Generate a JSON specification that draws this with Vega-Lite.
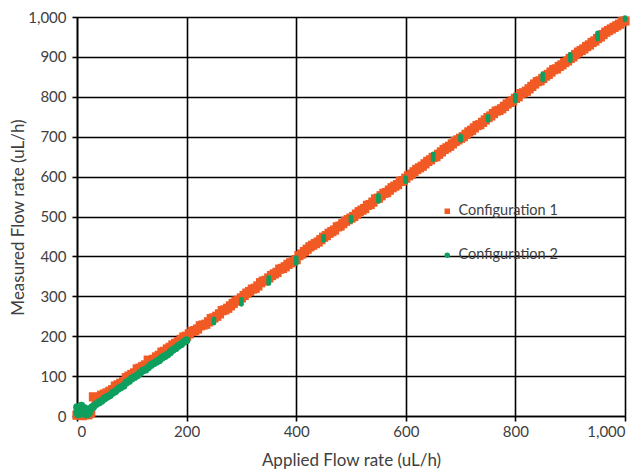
{
  "$schema": "https://vega.github.io/schema/vega-lite/v6.json",
  "autosize": {"type": "none"},
  "padding": {"left": 77, "top": 17, "right": 16, "bottom": 59},
  "width": 548,
  "height": 399,
  "config": {
    "view": {"stroke": null},
    "font": "Lato",
    "axis": {
      "gridColor": "#000000", "gridWidth": 1.6, "gridOpacity": 1,
      "domainColor": "#000000", "domainWidth": 1.6,
      "tickColor": "#000000", "tickWidth": 1.6, "tickSize": 5,
      "labelFont": "Lato", "labelFontSize": 15, "labelColor": "#404040",
      "titleFont": "Lato", "titleFontSize": 17, "titleColor": "#404040", "titleFontWeight": "normal"
    },
    "legend": {"labelFont": "Lato"}
  },
  "datasets": {
    "orange": [
      {"x":0,"y":2,"config":"Configuration 1"},{"x":5,"y":4,"config":"Configuration 1"},{"x":10,"y":1,"config":"Configuration 1"},{"x":15,"y":6,"config":"Configuration 1"},{"x":20,"y":3,"config":"Configuration 1"},{"x":25,"y":8,"config":"Configuration 1"},{"x":30,"y":48,"config":"Configuration 1"},{"x":35,"y":42,"config":"Configuration 1"},{"x":40,"y":45,"config":"Configuration 1"},{"x":45,"y":52,"config":"Configuration 1"},
      {"x":50,"y":55,"config":"Configuration 1"},{"x":55,"y":58,"config":"Configuration 1"},{"x":60,"y":62,"config":"Configuration 1"},{"x":65,"y":66,"config":"Configuration 1"},{"x":70,"y":75,"config":"Configuration 1"},{"x":75,"y":78,"config":"Configuration 1"},{"x":80,"y":82,"config":"Configuration 1"},{"x":85,"y":86,"config":"Configuration 1"},{"x":90,"y":96,"config":"Configuration 1"},{"x":95,"y":100,"config":"Configuration 1"},
      {"x":100,"y":104,"config":"Configuration 1"},{"x":105,"y":108,"config":"Configuration 1"},{"x":110,"y":118,"config":"Configuration 1"},{"x":115,"y":120,"config":"Configuration 1"},{"x":120,"y":124,"config":"Configuration 1"},{"x":125,"y":128,"config":"Configuration 1"},{"x":130,"y":140,"config":"Configuration 1"},{"x":135,"y":138,"config":"Configuration 1"},{"x":140,"y":142,"config":"Configuration 1"},{"x":145,"y":148,"config":"Configuration 1"},
      {"x":150,"y":152,"config":"Configuration 1"},{"x":155,"y":160,"config":"Configuration 1"},{"x":160,"y":162,"config":"Configuration 1"},{"x":165,"y":168,"config":"Configuration 1"},{"x":170,"y":172,"config":"Configuration 1"},{"x":175,"y":178,"config":"Configuration 1"},{"x":180,"y":182,"config":"Configuration 1"},{"x":185,"y":186,"config":"Configuration 1"},{"x":190,"y":192,"config":"Configuration 1"},{"x":195,"y":198,"config":"Configuration 1"},
      {"x":200,"y":200,"config":"Configuration 1"},{"x":205,"y":206,"config":"Configuration 1"},{"x":210,"y":212,"config":"Configuration 1"},{"x":215,"y":214,"config":"Configuration 1"},{"x":220,"y":218,"config":"Configuration 1"},{"x":225,"y":226,"config":"Configuration 1"},{"x":230,"y":228,"config":"Configuration 1"},{"x":235,"y":230,"config":"Configuration 1"},{"x":240,"y":236,"config":"Configuration 1"},{"x":245,"y":244,"config":"Configuration 1"},
      {"x":250,"y":246,"config":"Configuration 1"},{"x":255,"y":250,"config":"Configuration 1"},{"x":260,"y":256,"config":"Configuration 1"},{"x":265,"y":264,"config":"Configuration 1"},{"x":270,"y":266,"config":"Configuration 1"},{"x":275,"y":270,"config":"Configuration 1"},{"x":280,"y":276,"config":"Configuration 1"},{"x":285,"y":282,"config":"Configuration 1"},{"x":290,"y":288,"config":"Configuration 1"},{"x":295,"y":290,"config":"Configuration 1"},
      {"x":300,"y":296,"config":"Configuration 1"},{"x":305,"y":302,"config":"Configuration 1"},{"x":310,"y":308,"config":"Configuration 1"},{"x":315,"y":312,"config":"Configuration 1"},{"x":320,"y":318,"config":"Configuration 1"},{"x":325,"y":320,"config":"Configuration 1"},{"x":330,"y":326,"config":"Configuration 1"},{"x":335,"y":334,"config":"Configuration 1"},{"x":340,"y":338,"config":"Configuration 1"},{"x":345,"y":340,"config":"Configuration 1"},
      {"x":350,"y":346,"config":"Configuration 1"},{"x":355,"y":352,"config":"Configuration 1"},{"x":360,"y":356,"config":"Configuration 1"},{"x":365,"y":360,"config":"Configuration 1"},{"x":370,"y":368,"config":"Configuration 1"},{"x":375,"y":370,"config":"Configuration 1"},{"x":380,"y":374,"config":"Configuration 1"},{"x":385,"y":380,"config":"Configuration 1"},{"x":390,"y":384,"config":"Configuration 1"},{"x":395,"y":388,"config":"Configuration 1"},
      {"x":400,"y":392,"config":"Configuration 1"},{"x":405,"y":402,"config":"Configuration 1"},{"x":410,"y":406,"config":"Configuration 1"},{"x":415,"y":412,"config":"Configuration 1"},{"x":420,"y":418,"config":"Configuration 1"},{"x":425,"y":424,"config":"Configuration 1"},{"x":430,"y":428,"config":"Configuration 1"},{"x":435,"y":432,"config":"Configuration 1"},{"x":440,"y":436,"config":"Configuration 1"},{"x":445,"y":442,"config":"Configuration 1"},
      {"x":450,"y":448,"config":"Configuration 1"},{"x":455,"y":452,"config":"Configuration 1"},{"x":460,"y":458,"config":"Configuration 1"},{"x":465,"y":462,"config":"Configuration 1"},{"x":470,"y":466,"config":"Configuration 1"},{"x":475,"y":474,"config":"Configuration 1"},{"x":480,"y":476,"config":"Configuration 1"},{"x":485,"y":482,"config":"Configuration 1"},{"x":490,"y":488,"config":"Configuration 1"},{"x":495,"y":492,"config":"Configuration 1"},
      {"x":500,"y":496,"config":"Configuration 1"},{"x":505,"y":500,"config":"Configuration 1"},{"x":510,"y":506,"config":"Configuration 1"},{"x":515,"y":512,"config":"Configuration 1"},{"x":520,"y":516,"config":"Configuration 1"},{"x":525,"y":520,"config":"Configuration 1"},{"x":530,"y":528,"config":"Configuration 1"},{"x":535,"y":530,"config":"Configuration 1"},{"x":540,"y":536,"config":"Configuration 1"},{"x":545,"y":544,"config":"Configuration 1"},
      {"x":550,"y":546,"config":"Configuration 1"},{"x":555,"y":552,"config":"Configuration 1"},{"x":560,"y":558,"config":"Configuration 1"},{"x":565,"y":560,"config":"Configuration 1"},{"x":570,"y":566,"config":"Configuration 1"},{"x":575,"y":572,"config":"Configuration 1"},{"x":580,"y":576,"config":"Configuration 1"},{"x":585,"y":580,"config":"Configuration 1"},{"x":590,"y":588,"config":"Configuration 1"},{"x":595,"y":590,"config":"Configuration 1"},
      {"x":600,"y":596,"config":"Configuration 1"},{"x":605,"y":602,"config":"Configuration 1"},{"x":610,"y":606,"config":"Configuration 1"},{"x":615,"y":612,"config":"Configuration 1"},{"x":620,"y":618,"config":"Configuration 1"},{"x":625,"y":622,"config":"Configuration 1"},{"x":630,"y":626,"config":"Configuration 1"},{"x":635,"y":632,"config":"Configuration 1"},{"x":640,"y":638,"config":"Configuration 1"},{"x":645,"y":642,"config":"Configuration 1"},
      {"x":650,"y":648,"config":"Configuration 1"},{"x":655,"y":650,"config":"Configuration 1"},{"x":660,"y":656,"config":"Configuration 1"},{"x":665,"y":662,"config":"Configuration 1"},{"x":670,"y":668,"config":"Configuration 1"},{"x":675,"y":672,"config":"Configuration 1"},{"x":680,"y":676,"config":"Configuration 1"},{"x":685,"y":682,"config":"Configuration 1"},{"x":690,"y":688,"config":"Configuration 1"},{"x":695,"y":692,"config":"Configuration 1"},
      {"x":700,"y":696,"config":"Configuration 1"},{"x":705,"y":700,"config":"Configuration 1"},{"x":710,"y":706,"config":"Configuration 1"},{"x":715,"y":712,"config":"Configuration 1"},{"x":720,"y":716,"config":"Configuration 1"},{"x":725,"y":722,"config":"Configuration 1"},{"x":730,"y":728,"config":"Configuration 1"},{"x":735,"y":730,"config":"Configuration 1"},{"x":740,"y":736,"config":"Configuration 1"},{"x":745,"y":742,"config":"Configuration 1"},
      {"x":750,"y":748,"config":"Configuration 1"},{"x":755,"y":752,"config":"Configuration 1"},{"x":760,"y":758,"config":"Configuration 1"},{"x":765,"y":764,"config":"Configuration 1"},{"x":770,"y":766,"config":"Configuration 1"},{"x":775,"y":770,"config":"Configuration 1"},{"x":780,"y":776,"config":"Configuration 1"},{"x":785,"y":782,"config":"Configuration 1"},{"x":790,"y":786,"config":"Configuration 1"},{"x":795,"y":790,"config":"Configuration 1"},
      {"x":800,"y":796,"config":"Configuration 1"},{"x":805,"y":800,"config":"Configuration 1"},{"x":810,"y":808,"config":"Configuration 1"},{"x":815,"y":810,"config":"Configuration 1"},{"x":820,"y":814,"config":"Configuration 1"},{"x":825,"y":820,"config":"Configuration 1"},{"x":830,"y":826,"config":"Configuration 1"},{"x":835,"y":832,"config":"Configuration 1"},{"x":840,"y":838,"config":"Configuration 1"},{"x":845,"y":840,"config":"Configuration 1"},
      {"x":850,"y":846,"config":"Configuration 1"},{"x":855,"y":852,"config":"Configuration 1"},{"x":860,"y":856,"config":"Configuration 1"},{"x":865,"y":862,"config":"Configuration 1"},{"x":870,"y":868,"config":"Configuration 1"},{"x":875,"y":870,"config":"Configuration 1"},{"x":880,"y":876,"config":"Configuration 1"},{"x":885,"y":880,"config":"Configuration 1"},{"x":890,"y":886,"config":"Configuration 1"},{"x":895,"y":890,"config":"Configuration 1"},
      {"x":900,"y":896,"config":"Configuration 1"},{"x":905,"y":900,"config":"Configuration 1"},{"x":910,"y":906,"config":"Configuration 1"},{"x":915,"y":912,"config":"Configuration 1"},{"x":920,"y":916,"config":"Configuration 1"},{"x":925,"y":920,"config":"Configuration 1"},{"x":930,"y":926,"config":"Configuration 1"},{"x":935,"y":930,"config":"Configuration 1"},{"x":940,"y":936,"config":"Configuration 1"},{"x":945,"y":940,"config":"Configuration 1"},
      {"x":950,"y":946,"config":"Configuration 1"},{"x":955,"y":950,"config":"Configuration 1"},{"x":960,"y":956,"config":"Configuration 1"},{"x":965,"y":962,"config":"Configuration 1"},{"x":970,"y":966,"config":"Configuration 1"},{"x":975,"y":970,"config":"Configuration 1"},{"x":980,"y":974,"config":"Configuration 1"},{"x":985,"y":978,"config":"Configuration 1"},{"x":990,"y":982,"config":"Configuration 1"},{"x":995,"y":988,"config":"Configuration 1"},
      {"x":1000,"y":990,"config":"Configuration 1"}
    ],
    "greenBand": [
      {"x":0,"y":10,"config":"Configuration 2"},{"x":0,"y":22,"config":"Configuration 2"},{"x":2,"y":4,"config":"Configuration 2"},{"x":4,"y":18,"config":"Configuration 2"},{"x":6,"y":8,"config":"Configuration 2"},{"x":8,"y":26,"config":"Configuration 2"},{"x":10,"y":12,"config":"Configuration 2"},{"x":12,"y":6,"config":"Configuration 2"},{"x":14,"y":20,"config":"Configuration 2"},{"x":16,"y":10,"config":"Configuration 2"},
      {"x":18,"y":4,"config":"Configuration 2"},{"x":20,"y":14,"config":"Configuration 2"},{"x":22,"y":8,"config":"Configuration 2"},{"x":24,"y":16,"config":"Configuration 2"},{"x":26,"y":20,"config":"Configuration 2"},{"x":28,"y":22,"config":"Configuration 2"},{"x":30,"y":24,"config":"Configuration 2"},{"x":35,"y":30,"config":"Configuration 2"},{"x":40,"y":34,"config":"Configuration 2"},{"x":45,"y":38,"config":"Configuration 2"},
      {"x":50,"y":44,"config":"Configuration 2"},{"x":55,"y":48,"config":"Configuration 2"},{"x":60,"y":52,"config":"Configuration 2"},{"x":65,"y":58,"config":"Configuration 2"},{"x":70,"y":62,"config":"Configuration 2"},{"x":75,"y":68,"config":"Configuration 2"},{"x":80,"y":72,"config":"Configuration 2"},{"x":85,"y":76,"config":"Configuration 2"},{"x":90,"y":84,"config":"Configuration 2"},{"x":95,"y":88,"config":"Configuration 2"},
      {"x":100,"y":94,"config":"Configuration 2"},{"x":105,"y":98,"config":"Configuration 2"},{"x":110,"y":102,"config":"Configuration 2"},{"x":115,"y":108,"config":"Configuration 2"},{"x":120,"y":114,"config":"Configuration 2"},{"x":125,"y":116,"config":"Configuration 2"},{"x":130,"y":122,"config":"Configuration 2"},{"x":135,"y":128,"config":"Configuration 2"},{"x":140,"y":132,"config":"Configuration 2"},{"x":145,"y":136,"config":"Configuration 2"},
      {"x":150,"y":140,"config":"Configuration 2"},{"x":155,"y":146,"config":"Configuration 2"},{"x":160,"y":150,"config":"Configuration 2"},{"x":165,"y":154,"config":"Configuration 2"},{"x":170,"y":160,"config":"Configuration 2"},{"x":175,"y":166,"config":"Configuration 2"},{"x":180,"y":170,"config":"Configuration 2"},{"x":185,"y":176,"config":"Configuration 2"},{"x":190,"y":180,"config":"Configuration 2"},{"x":195,"y":186,"config":"Configuration 2"},
      {"x":200,"y":190,"config":"Configuration 2"}
    ],
    "greenClusters": [
      {"x":250,"y":233,"config":"Configuration 2"},{"x":250,"y":238,"config":"Configuration 2"},{"x":250,"y":243,"config":"Configuration 2"},
      {"x":300,"y":280,"config":"Configuration 2"},{"x":300,"y":286,"config":"Configuration 2"},{"x":300,"y":292,"config":"Configuration 2"},
      {"x":350,"y":332,"config":"Configuration 2"},{"x":350,"y":337,"config":"Configuration 2"},{"x":350,"y":342,"config":"Configuration 2"},{"x":350,"y":347,"config":"Configuration 2"},
      {"x":400,"y":382,"config":"Configuration 2"},{"x":400,"y":387,"config":"Configuration 2"},{"x":400,"y":392,"config":"Configuration 2"},{"x":400,"y":397,"config":"Configuration 2"},
      {"x":450,"y":440,"config":"Configuration 2"},{"x":450,"y":445,"config":"Configuration 2"},{"x":450,"y":450,"config":"Configuration 2"},
      {"x":500,"y":488,"config":"Configuration 2"},{"x":500,"y":493,"config":"Configuration 2"},{"x":500,"y":498,"config":"Configuration 2"},
      {"x":550,"y":538,"config":"Configuration 2"},{"x":550,"y":543,"config":"Configuration 2"},{"x":550,"y":548,"config":"Configuration 2"},{"x":550,"y":553,"config":"Configuration 2"},
      {"x":600,"y":587,"config":"Configuration 2"},{"x":600,"y":592,"config":"Configuration 2"},{"x":600,"y":597,"config":"Configuration 2"},
      {"x":650,"y":642,"config":"Configuration 2"},{"x":650,"y":647,"config":"Configuration 2"},{"x":650,"y":652,"config":"Configuration 2"},{"x":650,"y":657,"config":"Configuration 2"},
      {"x":700,"y":691,"config":"Configuration 2"},{"x":700,"y":696,"config":"Configuration 2"},{"x":700,"y":701,"config":"Configuration 2"},
      {"x":750,"y":741,"config":"Configuration 2"},{"x":750,"y":746,"config":"Configuration 2"},{"x":750,"y":751,"config":"Configuration 2"},
      {"x":800,"y":789,"config":"Configuration 2"},{"x":800,"y":794,"config":"Configuration 2"},{"x":800,"y":799,"config":"Configuration 2"},{"x":800,"y":804,"config":"Configuration 2"},
      {"x":850,"y":842,"config":"Configuration 2"},{"x":850,"y":847,"config":"Configuration 2"},{"x":850,"y":852,"config":"Configuration 2"},{"x":850,"y":857,"config":"Configuration 2"},
      {"x":900,"y":891,"config":"Configuration 2"},{"x":900,"y":896,"config":"Configuration 2"},{"x":900,"y":901,"config":"Configuration 2"},{"x":900,"y":906,"config":"Configuration 2"},
      {"x":950,"y":945,"config":"Configuration 2"},{"x":950,"y":950,"config":"Configuration 2"},{"x":950,"y":955,"config":"Configuration 2"},{"x":950,"y":960,"config":"Configuration 2"},
      {"x":1000,"y":993,"config":"Configuration 2"},{"x":1000,"y":998,"config":"Configuration 2"}
    ]
  },
  "encoding": {
    "x": {
      "field": "x", "type": "quantitative",
      "scale": {"domain": [0, 1000], "nice": false},
      "axis": {
        "values": [0, 200, 400, 600, 800, 1000], "format": ",d",
        "title": "Applied Flow rate (uL/h)", "labelPadding": 3,
        "titleX": 274, "titleY": 44, "titleBaseline": "middle", "titleAlign": "center"
      }
    },
    "y": {
      "field": "y", "type": "quantitative",
      "scale": {"domain": [0, 1000], "nice": false},
      "axis": {
        "values": [0, 100, 200, 300, 400, 500, 600, 700, 800, 900, 1000], "format": ",d",
        "title": "Measured Flow rate (uL/h)", "labelPadding": 6,
        "titleX": -59, "titleY": 200, "titleAngle": 270, "titleBaseline": "middle", "titleAlign": "center"
      }
    },
    "color": {
      "field": "config", "type": "nominal",
      "scale": {"domain": ["Configuration 1", "Configuration 2"], "range": ["#F15A24", "#0E9F5E"]},
      "legend": {
        "title": null, "orient": "none", "legendX": 363, "legendY": 187,
        "symbolSize": 30, "labelFontSize": 14.5, "labelColor": "#404040",
        "rowPadding": 29, "labelOffset": 4, "symbolStrokeWidth": 0
      }
    },
    "shape": {
      "field": "config", "type": "nominal",
      "scale": {"domain": ["Configuration 1", "Configuration 2"], "range": ["square", "circle"]},
      "legend": {
        "title": null, "orient": "none", "legendX": 363, "legendY": 187,
        "symbolSize": 30, "labelFontSize": 14.5, "labelColor": "#404040",
        "rowPadding": 29, "labelOffset": 4, "symbolStrokeWidth": 0
      }
    }
  },
  "layer": [
    {"data": {"name": "orange"}, "mark": {"type": "point", "filled": true, "size": 85, "opacity": 1}},
    {"data": {"name": "greenBand"}, "mark": {"type": "point", "filled": true, "size": 60, "opacity": 1}},
    {"data": {"name": "greenClusters"}, "mark": {"type": "point", "filled": true, "size": 24, "opacity": 1}}
  ]
}
